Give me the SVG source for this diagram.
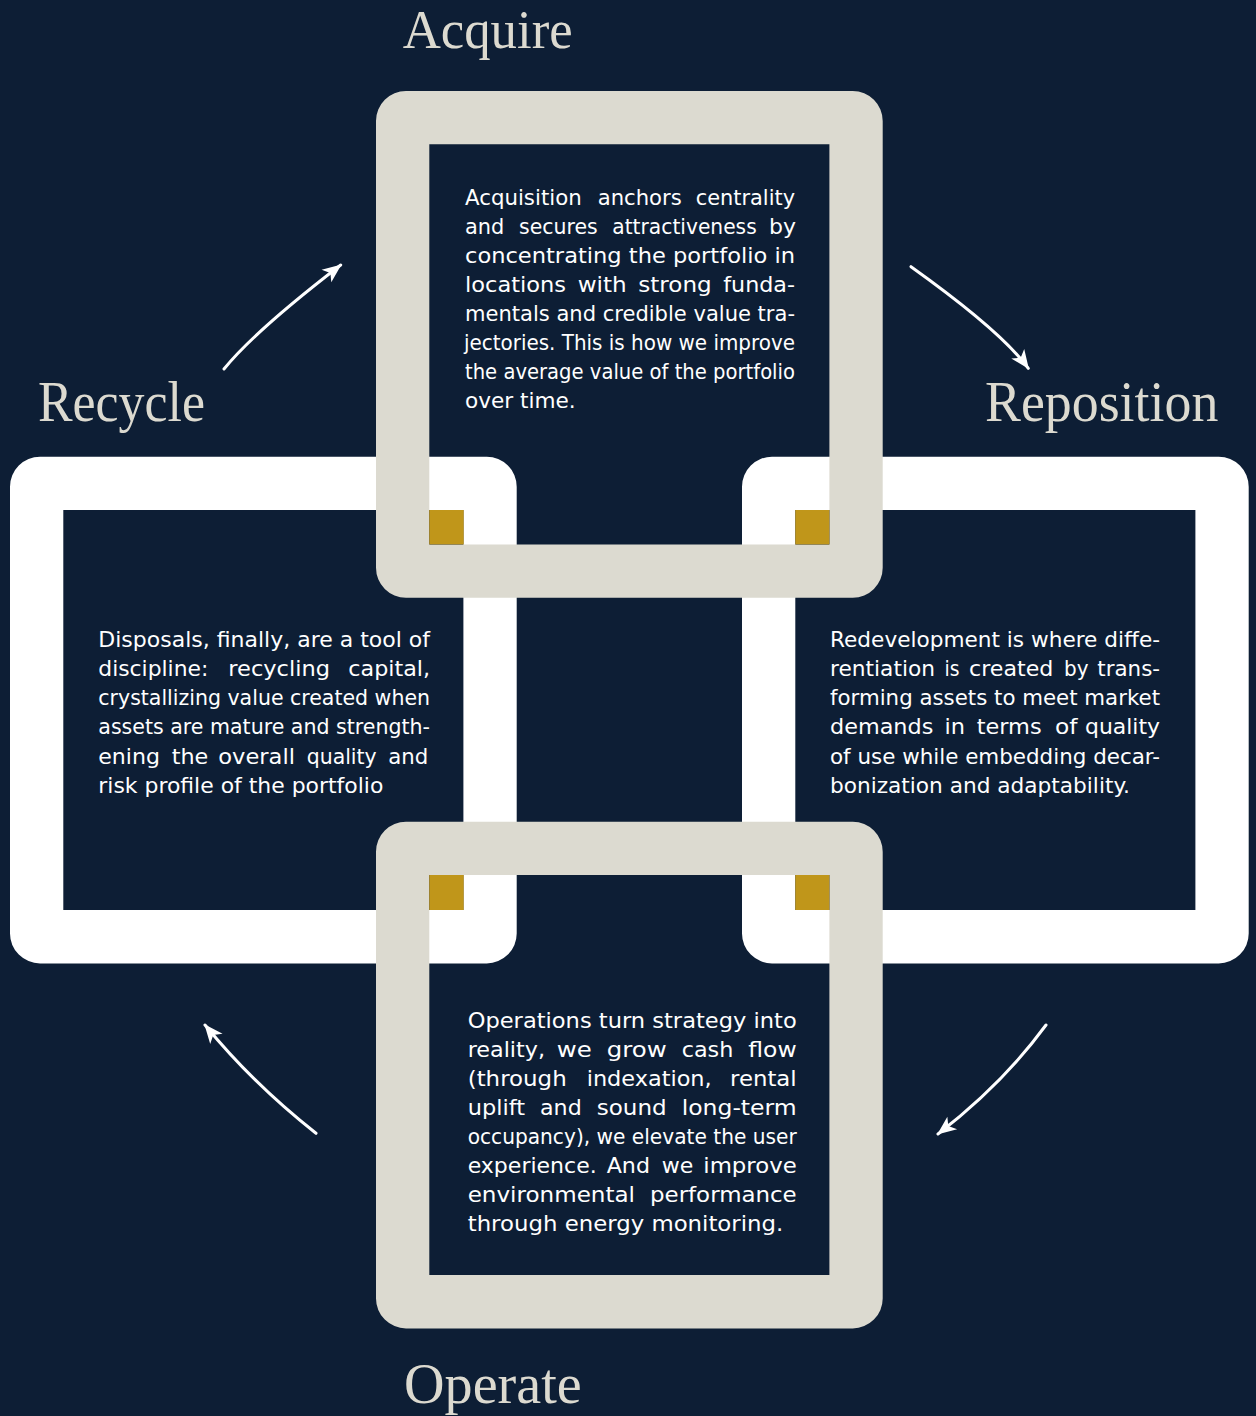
<svg xmlns="http://www.w3.org/2000/svg" xmlns:xlink="http://www.w3.org/1999/xlink" width="1256" height="1416" viewBox="0 0 1256 1416">
<style>
.bg{fill:#0d1e35}
.white{fill:#ffffff}
.beige{fill:#dcdad0}
.gold{fill:#c0961a}
.title{font-family:"Liberation Serif","Times New Roman",serif;font-size:58px;fill:#dcdad0}
.body{font-family:"DejaVu Sans","Liberation Sans",sans-serif;font-size:21px;fill:#ffffff}
.arrow{fill:none;stroke:#ffffff;stroke-width:3;stroke-linecap:round}
</style>
<defs>
<path id="ring" fill-rule="evenodd" d="M30,0 H476.7 A30,30 0 0 1 506.7,30 V476.7 A30,30 0 0 1 476.7,506.7 H30 A30,30 0 0 1 0,476.7 V30 A30,30 0 0 1 30,0 Z M53.3,53.3 V453.4 H453.4 V53.3 Z"/>
<marker id="head" viewBox="-20 -10 22 20" refX="0" refY="0" markerWidth="22" markerHeight="20" markerUnits="userSpaceOnUse" orient="auto">
<path d="M1,0 L-18,-8 L-13,0 L-18,8 Z" fill="#ffffff"/>
</marker>
</defs>
<rect class="bg" x="0" y="0" width="1256" height="1416"/>

<g id="node-recycle">
<use href="#ring" x="10" y="456.7" class="white"/>
<text class="title" x="38" y="420.7" textLength="167" lengthAdjust="spacingAndGlyphs">Recycle</text>
<g class="body">
<text x="98.3" y="646.7" textLength="331.7" lengthAdjust="spacingAndGlyphs">Disposals, finally, are a tool of</text>
<text x="98.3" y="675.9" textLength="110" lengthAdjust="spacingAndGlyphs">discipline:</text>
<text x="228.3" y="675.9" textLength="101.7" lengthAdjust="spacingAndGlyphs">recycling</text>
<text x="348.3" y="675.9" textLength="81.7" lengthAdjust="spacingAndGlyphs">capital,</text>
<text x="98.3" y="705.1" textLength="331.7" lengthAdjust="spacingAndGlyphs">crystallizing value created when</text>
<text x="98.3" y="734.3" textLength="331.7" lengthAdjust="spacingAndGlyphs">assets are mature and strength-</text>
<text x="98.3" y="763.5" textLength="61.7" lengthAdjust="spacingAndGlyphs">ening</text>
<text x="171.7" y="763.5" textLength="36.6" lengthAdjust="spacingAndGlyphs">the</text>
<text x="218.3" y="763.5" textLength="76.7" lengthAdjust="spacingAndGlyphs">overall</text>
<text x="306.7" y="763.5" textLength="70" lengthAdjust="spacingAndGlyphs">quality</text>
<text x="388.3" y="763.5" textLength="40" lengthAdjust="spacingAndGlyphs">and</text>
<text x="98.3" y="792.7" textLength="285" lengthAdjust="spacingAndGlyphs">risk profile of the portfolio</text>
</g>
</g>

<g id="node-reposition">
<use href="#ring" x="742" y="456.7" class="white"/>
<text class="title" x="985" y="420.7" textLength="233.3" lengthAdjust="spacingAndGlyphs">Reposition</text>
<g class="body">
<text x="830" y="646.7" textLength="330" lengthAdjust="spacingAndGlyphs">Redevelopment is where diffe-</text>
<text x="830" y="675.9" textLength="105" lengthAdjust="spacingAndGlyphs">rentiation</text>
<text x="944.5" y="675.9" textLength="15" lengthAdjust="spacingAndGlyphs">is</text>
<text x="969" y="675.9" textLength="84.3" lengthAdjust="spacingAndGlyphs">created</text>
<text x="1064" y="675.9" textLength="24.5" lengthAdjust="spacingAndGlyphs">by</text>
<text x="1097.3" y="675.9" textLength="62.7" lengthAdjust="spacingAndGlyphs">trans-</text>
<text x="830" y="705.1" textLength="330" lengthAdjust="spacingAndGlyphs">forming assets to meet market</text>
<text x="830" y="734.3" textLength="103.3" lengthAdjust="spacingAndGlyphs">demands</text>
<text x="944.5" y="734.3" textLength="20.5" lengthAdjust="spacingAndGlyphs">in</text>
<text x="976.7" y="734.3" textLength="65" lengthAdjust="spacingAndGlyphs">terms</text>
<text x="1055" y="734.3" textLength="22.5" lengthAdjust="spacingAndGlyphs">of</text>
<text x="1085" y="734.3" textLength="75" lengthAdjust="spacingAndGlyphs">quality</text>
<text x="830" y="763.5" textLength="330" lengthAdjust="spacingAndGlyphs">of use while embedding decar-</text>
<text x="830" y="792.7" textLength="300" lengthAdjust="spacingAndGlyphs">bonization and adaptability.</text>
</g>
</g>

<g id="node-acquire">
<use href="#ring" x="376" y="91" class="beige"/>
<text class="title" x="402.7" y="48.3" style="font-size:54px" textLength="170" lengthAdjust="spacingAndGlyphs">Acquire</text>
<g class="body">
<text x="465" y="205" textLength="116.7" lengthAdjust="spacingAndGlyphs">Acquisition</text>
<text x="597.7" y="205" textLength="84" lengthAdjust="spacingAndGlyphs">anchors</text>
<text x="695.7" y="205" textLength="99.3" lengthAdjust="spacingAndGlyphs">centrality</text>
<text x="465" y="234" textLength="39.3" lengthAdjust="spacingAndGlyphs">and</text>
<text x="519" y="234" textLength="78.7" lengthAdjust="spacingAndGlyphs">secures</text>
<text x="612.3" y="234" textLength="144.4" lengthAdjust="spacingAndGlyphs">attractiveness</text>
<text x="769" y="234" textLength="27" lengthAdjust="spacingAndGlyphs">by</text>
<text x="465" y="263" textLength="330" lengthAdjust="spacingAndGlyphs">concentrating the portfolio in</text>
<text x="465" y="292" textLength="101" lengthAdjust="spacingAndGlyphs">locations</text>
<text x="577.7" y="292" textLength="49" lengthAdjust="spacingAndGlyphs">with</text>
<text x="638.3" y="292" textLength="73.4" lengthAdjust="spacingAndGlyphs">strong</text>
<text x="723.3" y="292" textLength="71.7" lengthAdjust="spacingAndGlyphs">funda-</text>
<text x="465" y="320.8" textLength="330" lengthAdjust="spacingAndGlyphs">mentals and credible value tra-</text>
<text x="464" y="349.8" textLength="331" lengthAdjust="spacingAndGlyphs">jectories. This is how we improve</text>
<text x="465" y="378.7" textLength="330" lengthAdjust="spacingAndGlyphs">the average value of the portfolio</text>
<text x="465" y="407.5" textLength="110.7" lengthAdjust="spacingAndGlyphs">over time.</text>
</g>
</g>

<g id="node-operate">
<use href="#ring" x="376" y="821.7" class="beige"/>
<text class="title" x="404" y="1402.5" textLength="177.7" lengthAdjust="spacingAndGlyphs">Operate</text>
<g class="body">
<text x="467.7" y="1028.3" textLength="329" lengthAdjust="spacingAndGlyphs">Operations turn strategy into</text>
<text x="467.7" y="1057.3" textLength="77.3" lengthAdjust="spacingAndGlyphs">reality,</text>
<text x="556.7" y="1057.3" textLength="35" lengthAdjust="spacingAndGlyphs">we</text>
<text x="606.7" y="1057.3" textLength="60" lengthAdjust="spacingAndGlyphs">grow</text>
<text x="681.7" y="1057.3" textLength="51.6" lengthAdjust="spacingAndGlyphs">cash</text>
<text x="748.3" y="1057.3" textLength="48.4" lengthAdjust="spacingAndGlyphs">flow</text>
<text x="467.7" y="1086.3" textLength="99" lengthAdjust="spacingAndGlyphs">(through</text>
<text x="586.7" y="1086.3" textLength="125" lengthAdjust="spacingAndGlyphs">indexation,</text>
<text x="730" y="1086.3" textLength="66.7" lengthAdjust="spacingAndGlyphs">rental</text>
<text x="467.7" y="1115.3" textLength="57.3" lengthAdjust="spacingAndGlyphs">uplift</text>
<text x="540" y="1115.3" textLength="41.7" lengthAdjust="spacingAndGlyphs">and</text>
<text x="596.7" y="1115.3" textLength="70" lengthAdjust="spacingAndGlyphs">sound</text>
<text x="681.7" y="1115.3" textLength="115" lengthAdjust="spacingAndGlyphs">long-term</text>
<text x="467.7" y="1144.3" textLength="329" lengthAdjust="spacingAndGlyphs">occupancy), we elevate the user</text>
<text x="467.7" y="1173.3" textLength="129" lengthAdjust="spacingAndGlyphs">experience.</text>
<text x="606.7" y="1173.3" textLength="43.3" lengthAdjust="spacingAndGlyphs">And</text>
<text x="661.7" y="1173.3" textLength="31.6" lengthAdjust="spacingAndGlyphs">we</text>
<text x="703.3" y="1173.3" textLength="93.4" lengthAdjust="spacingAndGlyphs">improve</text>
<text x="467.7" y="1202.3" textLength="167.3" lengthAdjust="spacingAndGlyphs">environmental</text>
<text x="650" y="1202.3" textLength="146.7" lengthAdjust="spacingAndGlyphs">performance</text>
<text x="467.7" y="1231.3" textLength="315.6" lengthAdjust="spacingAndGlyphs">through energy monitoring.</text>
</g>
</g>

<g id="overlaps">
<rect class="gold" x="429.3" y="510" width="34.4" height="34.4"/>
<rect class="gold" x="795.3" y="510" width="34.1" height="34.4"/>
<rect class="gold" x="429.3" y="875" width="34.4" height="35"/>
<rect class="gold" x="795.3" y="875" width="34.1" height="35"/>
</g>

<g id="connectors">
<path class="arrow" d="M224,369 Q254.4,331.4 340.7,265" marker-end="url(#head)"/>
<path class="arrow" d="M911,266.7 Q1001.6,331.4 1028.3,368.3" marker-end="url(#head)"/>
<path class="arrow" d="M1046,1025 Q1002.7,1084 938,1134" marker-end="url(#head)"/>
<path class="arrow" d="M316,1133.3 Q253.3,1084 205,1025" marker-end="url(#head)"/>
</g>
</svg>
